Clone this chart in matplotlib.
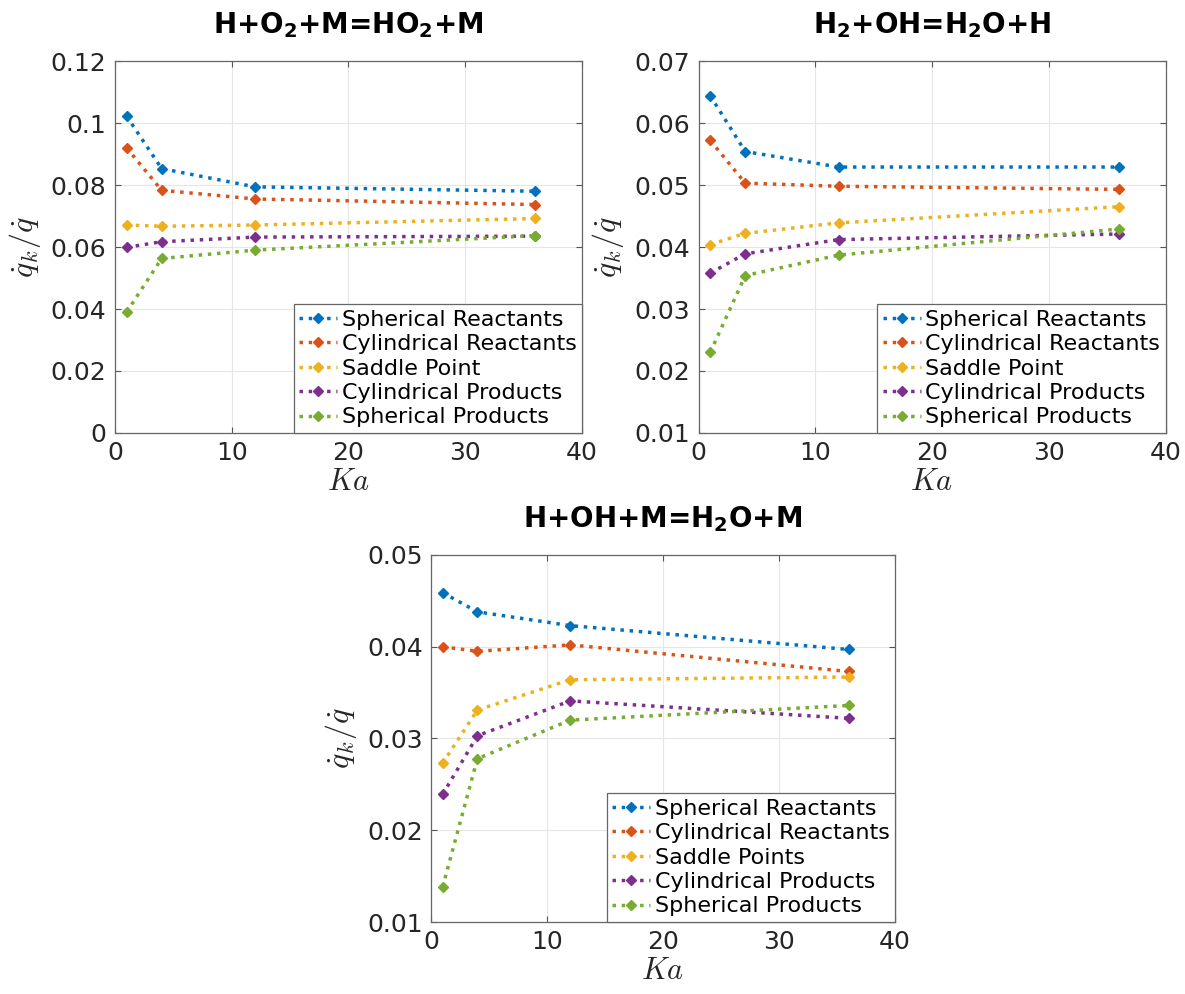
import matplotlib
matplotlib.use("Agg")
import matplotlib.pyplot as plt

ka = [1, 4, 12, 36]

labels_a = ["Spherical Reactants", "Cylindrical Reactants", "Saddle Point",
            "Cylindrical Products", "Spherical Products"]
labels_c = ["Spherical Reactants", "Cylindrical Reactants", "Saddle Points",
            "Cylindrical Products", "Spherical Products"]

# H+O2+M=HO2+M
a_sph_r = [0.1022, 0.0853, 0.0794, 0.0780]
a_cyl_r = [0.0920, 0.0783, 0.0755, 0.0737]
a_saddle = [0.0671, 0.0667, 0.0671, 0.0692]
a_cyl_p = [0.0599, 0.0617, 0.0632, 0.0635]
a_sph_p = [0.0390, 0.0563, 0.0590, 0.0637]

# H2+OH=H2O+H
b_sph_r = [0.0644, 0.0554, 0.0529, 0.0529]
b_cyl_r = [0.0572, 0.0503, 0.0498, 0.0493]
b_saddle = [0.0404, 0.0422, 0.0439, 0.0465]
b_cyl_p = [0.0358, 0.0389, 0.0412, 0.0421]
b_sph_p = [0.0230, 0.0354, 0.0387, 0.0429]

# H+OH+M=H2O+M
c_sph_r = [0.0459, 0.0438, 0.0423, 0.0397]
c_cyl_r = [0.0400, 0.0395, 0.0402, 0.0373]
c_saddle = [0.0273, 0.0331, 0.0364, 0.0367]
c_cyl_p = [0.0239, 0.0303, 0.0341, 0.0322]
c_sph_p = [0.0138, 0.0278, 0.0320, 0.0336]

colors = ["#0072BD", "#D95319", "#EDB120", "#7E2F8E", "#77AC30"]

titles = [r"H+O$_\mathbf{2}$+M=HO$_\mathbf{2}$+M",
          r"H$_\mathbf{2}$+OH=H$_\mathbf{2}$O+H",
          r"H+OH+M=H$_\mathbf{2}$O+M"]

fig = plt.figure(figsize=(11.85, 9.94), dpi=100)
axes = [fig.add_axes([0.0970, 0.5644, 0.3941, 0.3742]),
        fig.add_axes([0.5895, 0.5644, 0.3941, 0.3742]),
        fig.add_axes([0.3637, 0.0724, 0.3916, 0.3693])]

data = [[a_sph_r, a_cyl_r, a_saddle, a_cyl_p, a_sph_p],
        [b_sph_r, b_cyl_r, b_saddle, b_cyl_p, b_sph_p],
        [c_sph_r, c_cyl_r, c_saddle, c_cyl_p, c_sph_p]]
labsets = [labels_a, labels_a, labels_c]
ylims = [(0, 0.12), (0.01, 0.07), (0.01, 0.05)]
yticks = [[0, 0.02, 0.04, 0.06, 0.08, 0.1, 0.12],
          [0.01, 0.02, 0.03, 0.04, 0.05, 0.06, 0.07],
          [0.01, 0.02, 0.03, 0.04, 0.05]]
yticklabels = [["0", "0.02", "0.04", "0.06", "0.08", "0.1", "0.12"],
               ["0.01", "0.02", "0.03", "0.04", "0.05", "0.06", "0.07"],
               ["0.01", "0.02", "0.03", "0.04", "0.05"]]

for ax, series, labs, yl, yt, ytl, title in zip(axes, data, labsets, ylims, yticks, yticklabels, titles):
    for vals, lab, col in zip(series, labs, colors):
        ax.plot(ka, vals, linestyle=":", linewidth=2.5, marker="D", markersize=5,
                color=col, label=lab)
    ax.set_xlim(0, 40)
    ax.set_ylim(*yl)
    ax.set_xticks([0, 10, 20, 30, 40])
    ax.set_yticks(yt)
    ax.set_yticklabels(ytl)
    ax.grid(True, color="#e6e6e6", linewidth=0.8)
    ax.set_axisbelow(True)
    ax.tick_params(labelsize=18, direction="in", length=4, colors="#555555",
                   top=True, right=True, labelcolor="#262626")
    ax.tick_params(axis="y", pad=6)
    ax.tick_params(axis="x", pad=6)
    for s in ax.spines.values():
        s.set_color("#666666")
        s.set_linewidth(0.9)
    ax.set_title(title, fontsize=20, fontweight="bold", pad=20)
    ax.set_xlabel(r"$Ka$", fontsize=22, labelpad=1, math_fontfamily="cm",
                  color="#262626")
    ax.set_ylabel(r"$\dot{q}_k/\dot{q}$", fontsize=23, labelpad=6,
                  math_fontfamily="cm", color="#262626")
    leg = ax.legend(loc="lower right", fontsize=16, frameon=True, fancybox=False,
                    edgecolor="#666666", borderaxespad=0, handlelength=1.7,
                    handletextpad=0.2, labelspacing=0.2, borderpad=0.25,
                    framealpha=1)
    leg.get_frame().set_linewidth(0.9)

fig.savefig("out.png", dpi=100, facecolor="white")
